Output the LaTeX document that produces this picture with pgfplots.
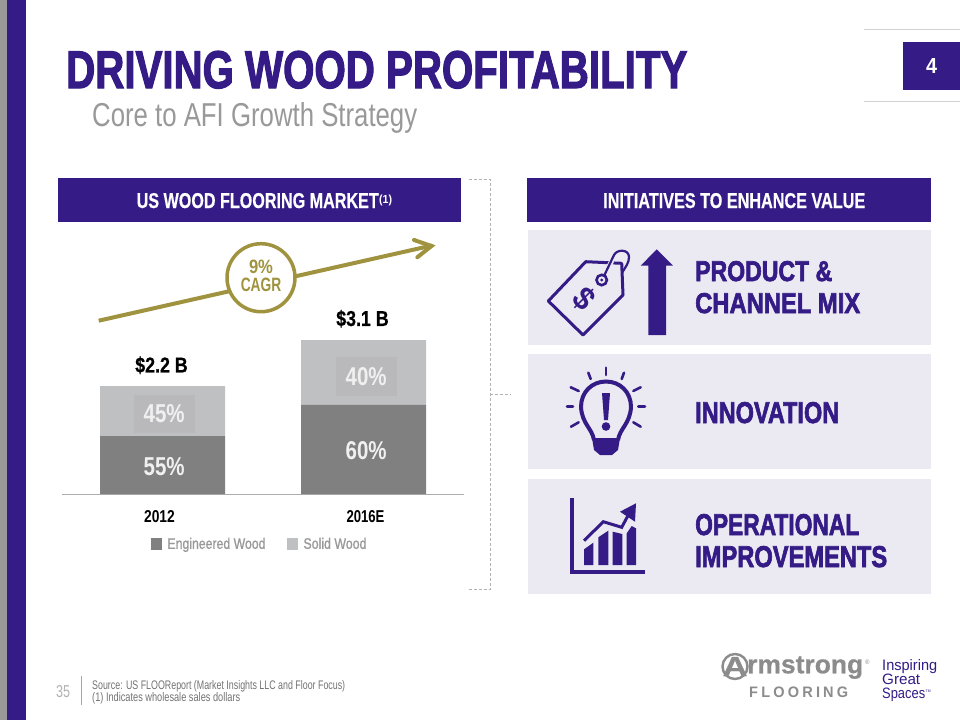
\documentclass[border=0pt]{standalone}
\usepackage{graphicx}
\usepackage{fontspec}
\usepackage{pgfplots}
\pgfplotsset{compat=1.18}
\setmainfont{Liberation Sans}
\newfontfamily\heavy[BoldFeatures={FakeBold=2.5}]{Liberation Sans}
\newfontfamily\semi[BoldFeatures={FakeBold=0.6}]{Liberation Sans}
\newfontfamily\med[FakeBold=1.2]{Liberation Sans}
\newfontfamily\spaced[LetterSpace=22]{Liberation Sans}
\definecolor{afi}{HTML}{341B85}
\definecolor{panel}{HTML}{EBEAF3}
\definecolor{gold}{HTML}{A0933F}
\definecolor{eng}{HTML}{808080}
\definecolor{solid}{HTML}{BFC0C2}
\definecolor{solidlab}{HTML}{B9B9BB}
\definecolor{sub}{HTML}{999999}
\newcommand{\T}[3]{\resizebox{#1pt}{#2pt}{#3}}
\pgfplotstableread{
x eng solid
0 1.17 1.01
1 1.80 1.31
}\market
\begin{document}
\begin{tikzpicture}
\begin{scope}[x=1pt,y=-1pt]
\path[use as bounding box] (0,0) rectangle (960,720);
\fill[white] (0,0) rectangle (960,720);
% side stripe
\fill[sub] (0,0) rectangle (7,720);
\fill[afi] (7,0) rectangle (26,720);
% title
\node[anchor=base west,inner sep=0,text=afi] at (66,88) {\T{621}{37}{\heavy\bfseries\fontsize{52}{52}\selectfont DRIVING WOOD PROFITABILITY}};
\node[anchor=base west,inner sep=0,text=sub] at (92,126.5) {\T{325}{24}{\fontsize{32}{32}\selectfont Core to AFI Growth Strategy}};
% page number
\draw[draw=black!18,line width=1pt] (864,29) -- (960,29);
\draw[draw=black!18,line width=1pt] (864,101.7) -- (960,101.7);
\fill[afi] (903,42) rectangle (960,90);
\node[anchor=base,inner sep=0,text=white] at (931.5,73) {\T{11}{15}{\bfseries\fontsize{20}{20}\selectfont 4}};
% headers
\fill[afi] (57.5,178) rectangle (460.7,222);
\node[anchor=base west,inner sep=0,text=white] at (136.5,208) {\T{242}{15}{\semi\bfseries\fontsize{21}{21}\selectfont US WOOD FLOORING MARKET}};
\node[anchor=base west,inner sep=0,text=white] at (379,203.5) {\T{13}{8.5}{\bfseries\fontsize{11}{11}\selectfont (1)}};
\fill[afi] (527,178) rectangle (931,222);
\node[anchor=base west,inner sep=0,text=white] at (603,208) {\T{262}{15}{\semi\bfseries\fontsize{21}{21}\selectfont INITIATIVES TO ENHANCE VALUE}};
% bracket
\draw[black!30,densely dashed,line width=.6pt] (469,179) -- (490,179) -- (490,589.5) -- (469,589.5);
\draw[black!30,densely dashed,line width=.6pt] (490,394) -- (511,394);
% panels
\fill[panel] (527.7,230) rectangle (930.7,345);
\fill[panel] (527.7,354) rectangle (930.7,469);
\fill[panel] (527.7,479) rectangle (930.7,594);
% panel text
\node[anchor=base west,inner sep=0,text=afi] at (695,281) {\T{137}{20}{\heavy\bfseries\fontsize{28}{28}\selectfont PRODUCT \&}};
\node[anchor=base west,inner sep=0,text=afi] at (695,313) {\T{165}{20}{\heavy\bfseries\fontsize{28}{28}\selectfont CHANNEL MIX}};
\node[anchor=base west,inner sep=0,text=afi] at (695,423) {\T{144}{21}{\heavy\bfseries\fontsize{28}{28}\selectfont INNOVATION}};
\node[anchor=base west,inner sep=0,text=afi] at (695,535) {\T{164}{21}{\heavy\bfseries\fontsize{28}{28}\selectfont OPERATIONAL}};
\node[anchor=base west,inner sep=0,text=afi] at (695,567) {\T{192}{21}{\heavy\bfseries\fontsize{28}{28}\selectfont IMPROVEMENTS}};
% tag icon
\draw[afi,line width=3pt,line join=round] (548.3,301) -- (585.7,261.7) -- (621.7,263.3) -- (623,295) -- (583,335) -- cycle;
\draw[panel,line width=5pt] (606,273) -- (613,258);
\draw[afi,line width=2.2pt,line join=round] (603.5,277) -- (614,255) .. controls (617,249) and (629,249) .. (629,257) .. controls (629,263) and (625.5,267) .. (622.5,272);
\draw[afi,line width=2.6pt,fill=panel] (601.7,280) circle (5.2);
\fill[afi] (601.7,280) circle (1.6);
\node[rotate=-45,inner sep=0,text=afi] at (584,299) {\T{17}{24}{\bfseries\fontsize{25}{25}\selectfont \$}};
\fill[afi] (648.3,335) -- (648.3,265.7) -- (640.7,265.7) -- (656.7,249.3) -- (673,265.7) -- (666,265.7) -- (666,335) -- cycle;
% bulb icon
\begin{scope}[afi,line width=2.6pt,line cap=round]
\draw (606,367.7) -- (606,375);
\draw (588.3,372.7) -- (590.7,379);
\draw (624,372.7) -- (621.7,379);
\draw (570.7,387.3) -- (578.7,391);
\draw (640.7,387.3) -- (633.3,391);
\draw (567,406.7) -- (573,406.7);
\draw (645,406.7) -- (638.3,406.7);
\draw (571,426.7) -- (578.7,422.3);
\draw (640.7,426.7) -- (633.3,422.3);
\end{scope}
\draw[afi,line width=4pt] (594,440) .. controls (592,428) and (582,424) .. (581,407) .. controls (581,392) and (592,381.5) .. (606,381.5) .. controls (620,381.5) and (631,392) .. (631,407) .. controls (630,424) and (620,428) .. (618,440);
\fill[afi] (592,438) -- (620,438) -- (618,450) -- (612,455) -- (600,455) -- (594,450) -- cycle;
\fill[afi] (602,393) -- (610,393) -- (608,420) -- (604,420) -- cycle;
\fill[afi] (606,426.5) circle (4.3);
% chart icon
\fill[afi] (570,498.3) rectangle (574,574);
\fill[afi] (570,569.5) rectangle (645,574);
\fill[afi] (584,549.3) -- (593.3,542.7) -- (593.3,565) -- (584,565) -- cycle;
\fill[afi] (598.3,537.3) -- (608.3,530.7) -- (608.3,565) -- (598.3,565) -- cycle;
\fill[afi] (612.7,531.7) -- (622.3,534) -- (622.3,565) -- (612.7,565) -- cycle;
\fill[afi] (626.7,533.3) -- (631.7,526) -- (636,528.3) -- (636,565) -- (626.7,565) -- cycle;
\draw[afi,line width=3pt] (584,540.7) -- (603.3,521.7) -- (621.7,527.3) -- (628.3,515);
\fill[afi] (636,503.3) -- (620,511.7) -- (635,521.7) -- cycle;
% gold arrow
\draw[gold,line width=4pt] (98.7,320.7) -- (432,245.5);
\draw[gold,line width=4pt,line cap=round,line join=miter] (414,240) -- (431.5,246) -- (417.3,257.3);
\draw[gold,line width=3.5pt,fill=white] (261,277.7) circle (34);
\node[anchor=base,inner sep=0,text=gold] at (261,273.5) {\T{24}{13.5}{\bfseries\fontsize{19}{19}\selectfont 9\%}};
\node[anchor=base,inner sep=0,text=gold] at (261,291.5) {\T{40.5}{13.5}{\bfseries\fontsize{19}{19}\selectfont CAGR}};
% footer
\node[anchor=base west,inner sep=0,text=black!30] at (56,697) {\T{14}{12}{\fontsize{16}{16}\selectfont 35}};
\draw[black!35,line width=.6pt] (81,676) -- (81,705);
\node[anchor=base west,inner sep=0,text=black!55] at (92,689) {\T{253}{9}{\fontsize{12}{12}\selectfont Source: US FLOOReport (Market Insights LLC and Floor Focus)}};
\node[anchor=base west,inner sep=0,text=black!55] at (92,701) {\T{148}{9}{\fontsize{12}{12}\selectfont (1) Indicates wholesale sales dollars}};
% logo
\draw[black!45,line width=2.4pt] (735,666.5) circle (12.5);
\node[anchor=base,inner sep=0,text=black!45] at (735,676) {\T{25}{19}{\semi\bfseries\fontsize{30}{30}\selectfont A}};
\node[anchor=base west,inner sep=0,text=black!45] at (747,673.3) {\T{116}{17}{\semi\bfseries\fontsize{24}{24}\selectfont rmstrong}};
\node[anchor=base west,inner sep=0,text=black!45] at (865,664) {\T{4.5}{4.5}{\fontsize{6}{6}\selectfont ®}};
\node[anchor=base west,inner sep=0,text=black!45] at (749,697.3) {\T{99}{10.6}{\spaced\bfseries\fontsize{16}{16}\selectfont FLOORING}};
\node[anchor=base west,inner sep=0,text=afi] at (882,670) {\T{55}{11}{\fontsize{15}{15}\selectfont Inspiring}};
\node[anchor=base west,inner sep=0,text=afi] at (882,684.5) {\T{38}{10.5}{\fontsize{15}{15}\selectfont Great}};
\node[anchor=base west,inner sep=0,text=afi] at (882,698) {\T{43}{10.5}{\fontsize{15}{15}\selectfont Spaces}};
\node[anchor=base west,inner sep=0,text=afi] at (925.5,692.5) {\T{5}{2.5}{\fontsize{5}{5}\selectfont TM}};
\end{scope}
\begin{axis}[
  at={(62pt,-494pt)}, anchor=south west,
  scale only axis, width=402pt, height=254pt,
  xmin=-0.5, xmax=1.5, ymin=0, ymax=5.131,
  ybar stacked, bar width=125pt,
  axis y line=none, axis x line*=bottom,
  axis line style={draw=black!32,line width=.8pt,-},
  xtick={0,1}, major tick length=0pt,
  xticklabels={\hspace*{-6pt}\T{30.7}{12}{\bfseries\fontsize{16}{16}\selectfont 2012},\hspace*{4pt}\T{38}{12}{\bfseries\fontsize{16}{16}\selectfont 2016E}},
  xticklabel style={inner sep=0pt,yshift=-16pt,text=black},
  legend columns=2,
  legend style={at={(0.49,-0.197)},anchor=center,draw=none,fill=none,inner sep=0pt,outer sep=0pt,
    nodes={inner sep=0pt,anchor=west,text=black!40},
    /tikz/every odd column/.append style={column sep=5pt},
    /tikz/every even column/.append style={column sep=22pt}},
  legend image code/.code={\fill[#1] (0pt,-6pt) rectangle (11pt,6pt);},
  clip=false,
]
\addplot[fill=eng,draw=none] table[x=x,y=eng]{\market};
\addlegendentry{\T{98}{11}{\med\fontsize{15}{15}\selectfont Engineered Wood}}
\addplot[fill=solid,draw=none] table[x=x,y=solid]{\market};
\addlegendentry{\T{63}{11}{\med\fontsize{15}{15}\selectfont Solid Wood}}
\coordinate (s0) at (axis cs:0.0085,1.62);
\coordinate (s1) at (axis cs:1.0135,2.37);
\coordinate (e0) at (axis cs:0.0085,0.545);
\coordinate (e1) at (axis cs:1.0135,0.87);
\node[text=black,inner sep=0] at (axis cs:-0.005,2.6) {\T{52.5}{16}{\semi\bfseries\fontsize{23}{23}\selectfont \$2.2 B}};
\node[text=black,inner sep=0] at (axis cs:0.995,3.54) {\T{52.5}{16}{\semi\bfseries\fontsize{23}{23}\selectfont \$3.1 B}};
\end{axis}
\node[fill=solidlab,minimum width=61pt,minimum height=38.5pt,inner sep=0] at (s0) {};
\node[fill=solidlab,minimum width=61pt,minimum height=38.5pt,inner sep=0] at (s1) {};
\node[text=white!94!black,inner sep=0] at (s0) {\T{41}{18}{\bfseries\fontsize{25}{25}\selectfont 45\%}};
\node[text=white!94!black,inner sep=0] at (e0) {\T{41}{18}{\bfseries\fontsize{25}{25}\selectfont 55\%}};
\node[text=white!94!black,inner sep=0] at (e1) {\T{41}{18}{\bfseries\fontsize{25}{25}\selectfont 60\%}};
\node[text=white!94!black,inner sep=0] at (s1) {\T{41}{18}{\bfseries\fontsize{25}{25}\selectfont 40\%}};
\end{tikzpicture}
\end{document}
